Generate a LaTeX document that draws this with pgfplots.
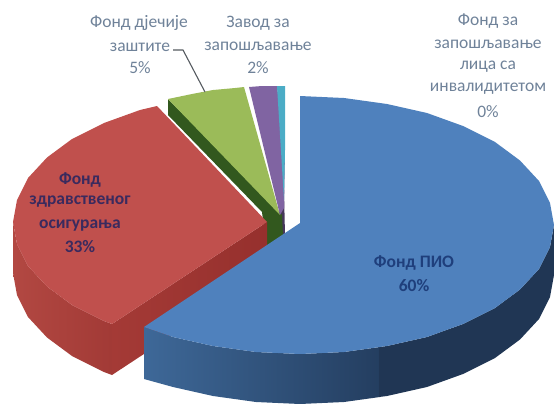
\documentclass[border=0pt]{standalone}
\usepackage{pgfplots}
\pgfplotsset{compat=1.18}
\usepackage{fontspec}
\setmainfont{Carlito}
\definecolor{lbl}{HTML}{6F8299}
\definecolor{navy}{HTML}{1F3F7C}
\definecolor{rednavy}{HTML}{3A2A5E}
\definecolor{rwA}{RGB}{164,58,54}
\definecolor{rwB}{RGB}{150,48,45}
\definecolor{roA}{RGB}{178,72,66}
\definecolor{roB}{RGB}{162,58,54}
\definecolor{bwA}{RGB}{62,104,152}
\definecolor{bwB}{RGB}{36,62,96}
\definecolor{bwC}{RGB}{32,54,84}
\definecolor{ptop}{RGB}{128,100,162}
\definecolor{pwall}{RGB}{70,55,90}
\definecolor{gtop}{RGB}{155,187,89}
\definecolor{gwall}{RGB}{50,88,30}
\definecolor{teal2}{RGB}{75,172,198}
\definecolor{rtop}{RGB}{192,80,77}
\definecolor{btop}{RGB}{79,129,189}
\definecolor{lead}{RGB}{85,90,96}
\tikzset{lab/.style={font=\fontsize{17.5}{20}\selectfont, text=lbl, align=center, inner sep=0pt},
 labb/.style={font=\fontsize{17.5}{20}\selectfont\bfseries, text=navy, align=center, inner sep=0pt},
 labr/.style={font=\fontsize{17.5}{20}\selectfont\bfseries, text=rednavy, align=center, inner sep=0pt}}
\begin{document}
\begin{tikzpicture}
\begin{axis}[
  scale only axis, width=554pt, height=404pt,
  xmin=0, xmax=554, ymin=0, ymax=404, y dir=reverse,
  hide axis, clip=true,
  every axis plot/.append style={mark=none},
]
\path (axis cs:0,0) rectangle (axis cs:554,404);
% purple dark wall
\addplot[draw=none, fill=pwall] coordinates {(284,190)(285,236)(278,242)(279,213)} --cycle;
% green wall, with its foot near the centre
\addplot[draw=none, fill=gwall] coordinates {(168,99)(168,115)(262,212)(266,246)(283,236)(282,215)} --cycle;
% green top
\addplot[draw=none, fill=gtop] coordinates {(168,99)(192,94)(213,90)(235,88)(244,87)(280,215)} --cycle;
% purple top
\addplot[draw=none, fill=ptop] coordinates {(249,87)(262,86)(277,86)(285,150)(284,208)(280,215)} --cycle;
% teal
\addplot[draw=none, fill=teal2] coordinates {(277,86)(285,86)(285,150)(284,200)} --cycle;
% red inner wall
\addplot[draw=none, left color=rwA, right color=rwB] coordinates {(112,324)(112,375)(267,273)(267,222)} --cycle;
% red outer wall
\addplot[draw=none, left color=roA, right color=roB] coordinates {(13,222)(17,244)(28,266)(47,286.5)(72,305)(104,321)(112,324)(112,375)(104,372)(72,356)(47,337.5)(28,317)(17,295)(13,273)} --cycle;
% red top
\addplot[draw=none, fill=rtop] coordinates {(157,106)(140,110)(104,123)(72,139)(47,157.5)(28,178)(17,200)(13,222)(17,244)(28,266)(47,286.5)(72,305)(104,321)(112,324)(267,222)} --cycle;
% blue wall left
\addplot[draw=none, left color=bwA, right color=bwB] coordinates {(144,327)(173,337)(213,346)(256,352)(300,354)(344,352)(380,347)(380,397)(344,402)(300,404)(256,402)(213,396)(173,387)(144,379)} --cycle;
% blue wall right
\addplot[draw=none, fill=bwC] coordinates {(379,347)(387,346)(427,337)(463,324)(495,308)(520,289.5)(539,269)(550,247)(554,225)(554,275)(550,297)(539,319)(520,339.5)(495,358)(463,374)(427,387)(387,396)(379,397)} --cycle;
% blue top
\addplot[draw=none, fill=btop] coordinates {(300,96)(344,98)(387,104)(427,113)(463,126)(495,142)(520,160.5)(539,181)(550,203)(554,225)(550,247)(539,269)(520,289.5)(495,308)(463,324)(427,337)(387,346)(344,352)(300,354)(256,352)(213,346)(173,337)(144,327)(300,223)} --cycle;
% leader
\addplot[draw=lead, line width=1.1pt] coordinates {(173,50)(183,50)(205,92)};
% labels
\node[lab] at (axis cs:139,23) {Фонд дјечије};
\node[lab] at (axis cs:140,47) {заштите};
\node[lab] at (axis cs:140,68) {5\%};
\node[lab] at (axis cs:258,23) {Завод за};
\node[lab] at (axis cs:258,46) {запошљавање};
\node[lab] at (axis cs:258,68) {2\%};
\node[lab] at (axis cs:488,21) {Фонд за};
\node[lab] at (axis cs:488,44) {запошљавање};
\node[lab] at (axis cs:488,67) {лица са};
\node[lab] at (axis cs:488,89) {инвалидитетом};
\node[lab] at (axis cs:488,112) {0\%};
\node[labb] at (axis cs:414,263) {Фонд ПИО};
\node[labb] at (axis cs:414,286) {60\%};
\node[labr] at (axis cs:80,180) {Фонд};
\node[labr] at (axis cs:80,202) {здравственог};
\node[labr] at (axis cs:80,226) {осигурања};
\node[labr] at (axis cs:80,247) {33\%};
\end{axis}
\end{tikzpicture}
\end{document}
